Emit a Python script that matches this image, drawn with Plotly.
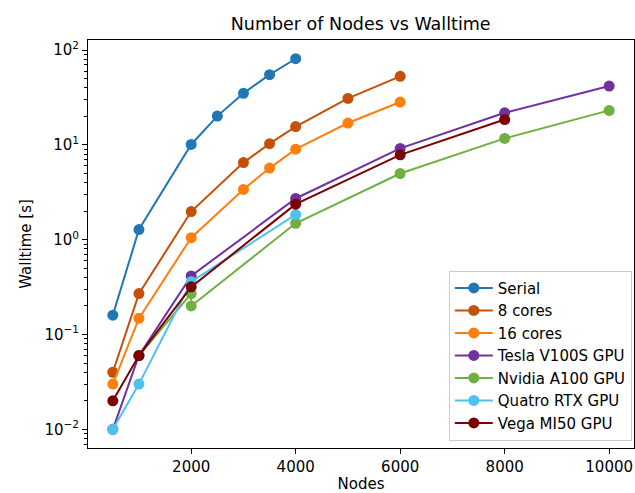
import plotly.graph_objects as go

series_names = ["Serial", "8 cores", "16 cores", "Tesla V100S GPU",
                "Nvidia A100 GPU", "Quatro RTX GPU", "Vega MI50 GPU"]
serial_x = [500, 1000, 2000, 2500, 3000, 3500, 4000]
serial_y = [0.16, 1.28, 10.1, 20.1, 35.0, 55.0, 81.0]
cores8_x = [500, 1000, 2000, 3000, 3500, 4000, 5000, 6000]
cores8_y = [0.04, 0.27, 1.98, 6.5, 10.3, 15.6, 30.9, 52.8]
cores16_x = [500, 1000, 2000, 3000, 3500, 4000, 5000, 6000]
cores16_y = [0.03, 0.148, 1.05, 3.39, 5.69, 9.0, 17.0, 28.3]
tesla_x = [500, 1000, 2000, 4000, 6000, 8000, 10000]
tesla_y = [0.01, 0.06, 0.415, 2.72, 9.18, 21.8, 41.7]
a100_x = [1000, 2000, 2000, 4000, 6000, 8000, 10000]
a100_y = [0.06, 0.27, 0.2, 1.49, 4.99, 11.7, 23.1]
quatro_x = [500, 1000, 2000, 4000]
quatro_y = [0.01, 0.03, 0.36, 1.84]
vega_x = [500, 1000, 2000, 4000, 6000, 8000]
vega_y = [0.02, 0.06, 0.318, 2.37, 7.85, 18.5]
colors = ["#1f77b4", "#c55008", "#ff7f0e", "#7030a0", "#70b040", "#4fc1ef", "#7b0000"]

xs = [serial_x, cores8_x, cores16_x, tesla_x, a100_x, quatro_x, vega_x]
ys = [serial_y, cores8_y, cores16_y, tesla_y, a100_y, quatro_y, vega_y]

y_tickvals = [0.01, 0.1, 1, 10, 100]
y_ticktext = ["10<sup>−2</sup>", "10<sup>−1</sup>", "10<sup>0</sup>", "10<sup>1</sup>", "10<sup>2</sup>"]
x_tickvals = [2000, 4000, 6000, 8000, 10000]

fig = go.Figure()
for name, x, y, c in zip(series_names, xs, ys, colors):
    fig.add_trace(go.Scatter(x=x, y=y, name=name, mode="lines+markers",
                             line=dict(color=c, width=2),
                             marker=dict(color=c, size=11)))

font = "DejaVu Sans"
fig.update_layout(
    width=635, height=493,
    margin=dict(l=88, r=1, t=40, b=45),
    paper_bgcolor="white", plot_bgcolor="white",
    font=dict(family=font, size=15, color="black"),
    title=dict(text="Number of Nodes vs Walltime", x=0.568, xanchor="center",
               xref="container", yref="container",
               y=0.951, yanchor="middle", font=dict(size=17.5)),
    showlegend=True,
    legend=dict(x=0.996, y=0.018, xanchor="right", yanchor="bottom",
                bordercolor="#cccccc", borderwidth=1, bgcolor="rgba(255,255,255,0.8)",
                font=dict(size=15), itemwidth=38),
)
fig.update_xaxes(range=[25, 10475], tickvals=x_tickvals, tickformat="d",
                 showgrid=False, zeroline=False, showline=True, linecolor="black",
                 linewidth=1, mirror=True, ticks="outside", ticklen=5, tickcolor="black",
                 tickfont=dict(size=15),
                 title=dict(text="Nodes", standoff=6, font=dict(size=15)))
fig.update_yaxes(type="log", range=[-2.197, 2.106], tickvals=y_tickvals, ticktext=y_ticktext,
                 showgrid=False, zeroline=False, showline=True, linecolor="black",
                 linewidth=1, mirror=True, ticks="outside", ticklen=5, tickcolor="black",
                 tickfont=dict(size=15),
                 minor=dict(ticks="outside", ticklen=3, tickcolor="black", showgrid=False, dtick="D1"),
                 title=dict(text="Walltime [s]", standoff=9, font=dict(size=15)))
fig.write_html("out.html")
